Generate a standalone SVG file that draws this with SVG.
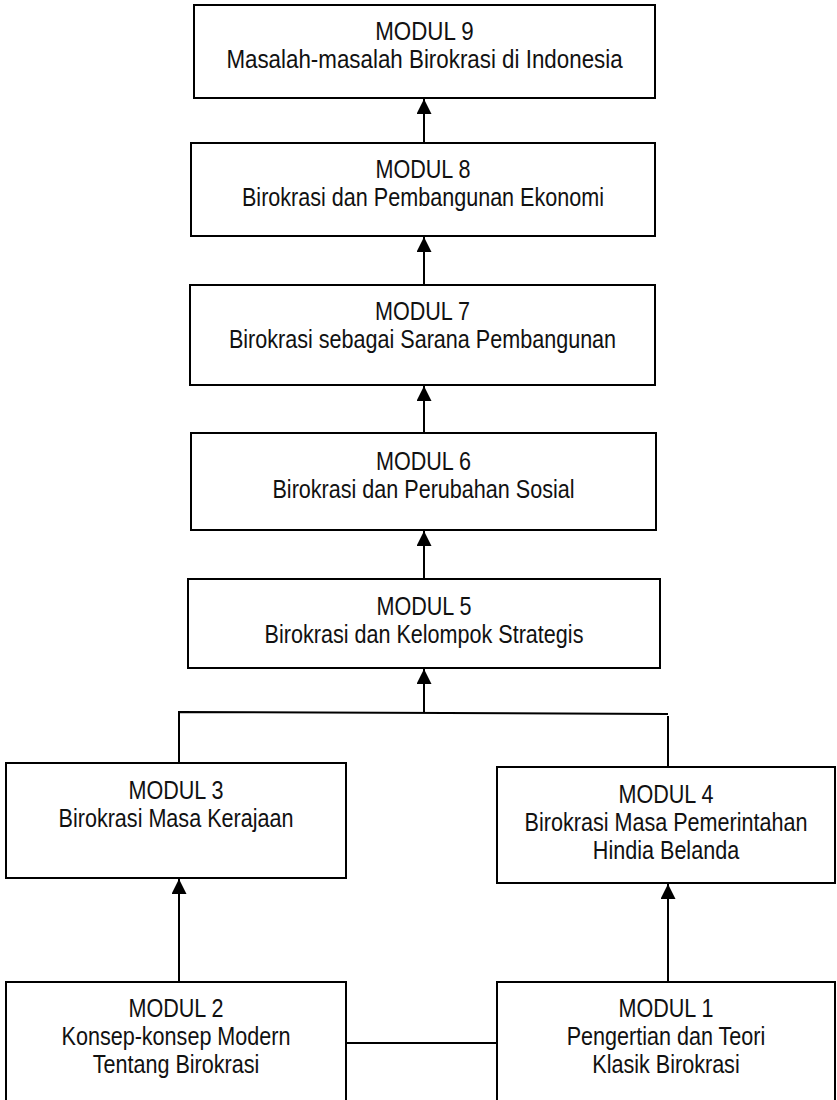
<svg xmlns="http://www.w3.org/2000/svg" width="837" height="1100" viewBox="0 0 837 1100">
  <style>
    .box { fill: #ffffff; stroke: #000000; stroke-width: 2; }
    .conn { stroke: #000000; stroke-width: 2; fill: none; }
    .lbl { font-family: "Liberation Sans", Arial, sans-serif; font-size: 26px; fill: #111111; text-anchor: middle; }
  </style>
  <defs>
    <marker id="arrow" markerUnits="userSpaceOnUse" markerWidth="16" markerHeight="16" refX="15" refY="7.5" orient="auto">
      <path d="M0,0 L15,7.5 L0,15 Z" fill="#000000"/>
    </marker>
  </defs>
  <rect width="837" height="1100" fill="#ffffff"/>

  <g id="connectors">
    <line class="conn" x1="424" y1="143" x2="424" y2="99" marker-end="url(#arrow)"/>
    <line class="conn" x1="424" y1="285" x2="424" y2="237" marker-end="url(#arrow)"/>
    <line class="conn" x1="424" y1="433" x2="424" y2="386" marker-end="url(#arrow)"/>
    <line class="conn" x1="424" y1="579" x2="424" y2="531" marker-end="url(#arrow)"/>
    <line class="conn" x1="424" y1="712" x2="424" y2="669" marker-end="url(#arrow)"/>
    <polyline class="conn" points="179,763 179,712 668,714"/>
    <line class="conn" x1="668" y1="716" x2="668" y2="767"/>
    <line class="conn" x1="179" y1="982" x2="179" y2="879" marker-end="url(#arrow)"/>
    <line class="conn" x1="668" y1="982" x2="668" y2="884" marker-end="url(#arrow)"/>
    <line class="conn" x1="346" y1="1043" x2="497" y2="1043"/>
  </g>

  <g id="modul9">
    <rect class="box" x="194" y="5" width="461" height="93"/>
    <text class="lbl" transform="translate(424.5,0) scale(0.86,1)"><tspan x="0" y="40">MODUL 9</tspan><tspan x="0" y="68">Masalah-masalah Birokrasi di Indonesia</tspan></text>
  </g>
  <g id="modul8">
    <rect class="box" x="191" y="143" width="464" height="93"/>
    <text class="lbl" transform="translate(423,0) scale(0.83,1)"><tspan x="0" y="178">MODUL 8</tspan><tspan x="0" y="206">Birokrasi dan Pembangunan Ekonomi</tspan></text>
  </g>
  <g id="modul7">
    <rect class="box" x="190" y="285" width="465" height="100"/>
    <text class="lbl" transform="translate(422.5,0) scale(0.83,1)"><tspan x="0" y="320">MODUL 7</tspan><tspan x="0" y="348">Birokrasi sebagai Sarana Pembangunan</tspan></text>
  </g>
  <g id="modul6">
    <rect class="box" x="191" y="433" width="465" height="97"/>
    <text class="lbl" transform="translate(423.5,0) scale(0.83,1)"><tspan x="0" y="470">MODUL 6</tspan><tspan x="0" y="498">Birokrasi dan Perubahan Sosial</tspan></text>
  </g>
  <g id="modul5">
    <rect class="box" x="188" y="579" width="472" height="89"/>
    <text class="lbl" transform="translate(424,0) scale(0.83,1)"><tspan x="0" y="615">MODUL 5</tspan><tspan x="0" y="643">Birokrasi dan Kelompok Strategis</tspan></text>
  </g>
  <g id="modul3">
    <rect class="box" x="6" y="763" width="340" height="115"/>
    <text class="lbl" transform="translate(176,0) scale(0.83,1)"><tspan x="0" y="799">MODUL 3</tspan><tspan x="0" y="827">Birokrasi Masa Kerajaan</tspan></text>
  </g>
  <g id="modul4">
    <rect class="box" x="497" y="767" width="338" height="116"/>
    <text class="lbl" transform="translate(666,0) scale(0.83,1)"><tspan x="0" y="803">MODUL 4</tspan><tspan x="0" y="831">Birokrasi Masa Pemerintahan</tspan><tspan x="0" y="859">Hindia Belanda</tspan></text>
  </g>
  <g id="modul2">
    <rect class="box" x="6" y="982" width="340" height="130"/>
    <text class="lbl" transform="translate(176,0) scale(0.83,1)"><tspan x="0" y="1017">MODUL 2</tspan><tspan x="0" y="1045">Konsep-konsep Modern</tspan><tspan x="0" y="1073">Tentang Birokrasi</tspan></text>
  </g>
  <g id="modul1">
    <rect class="box" x="497" y="982" width="338" height="130"/>
    <text class="lbl" transform="translate(666,0) scale(0.83,1)"><tspan x="0" y="1017">MODUL 1</tspan><tspan x="0" y="1045">Pengertian dan Teori</tspan><tspan x="0" y="1073">Klasik Birokrasi</tspan></text>
  </g>
</svg>
